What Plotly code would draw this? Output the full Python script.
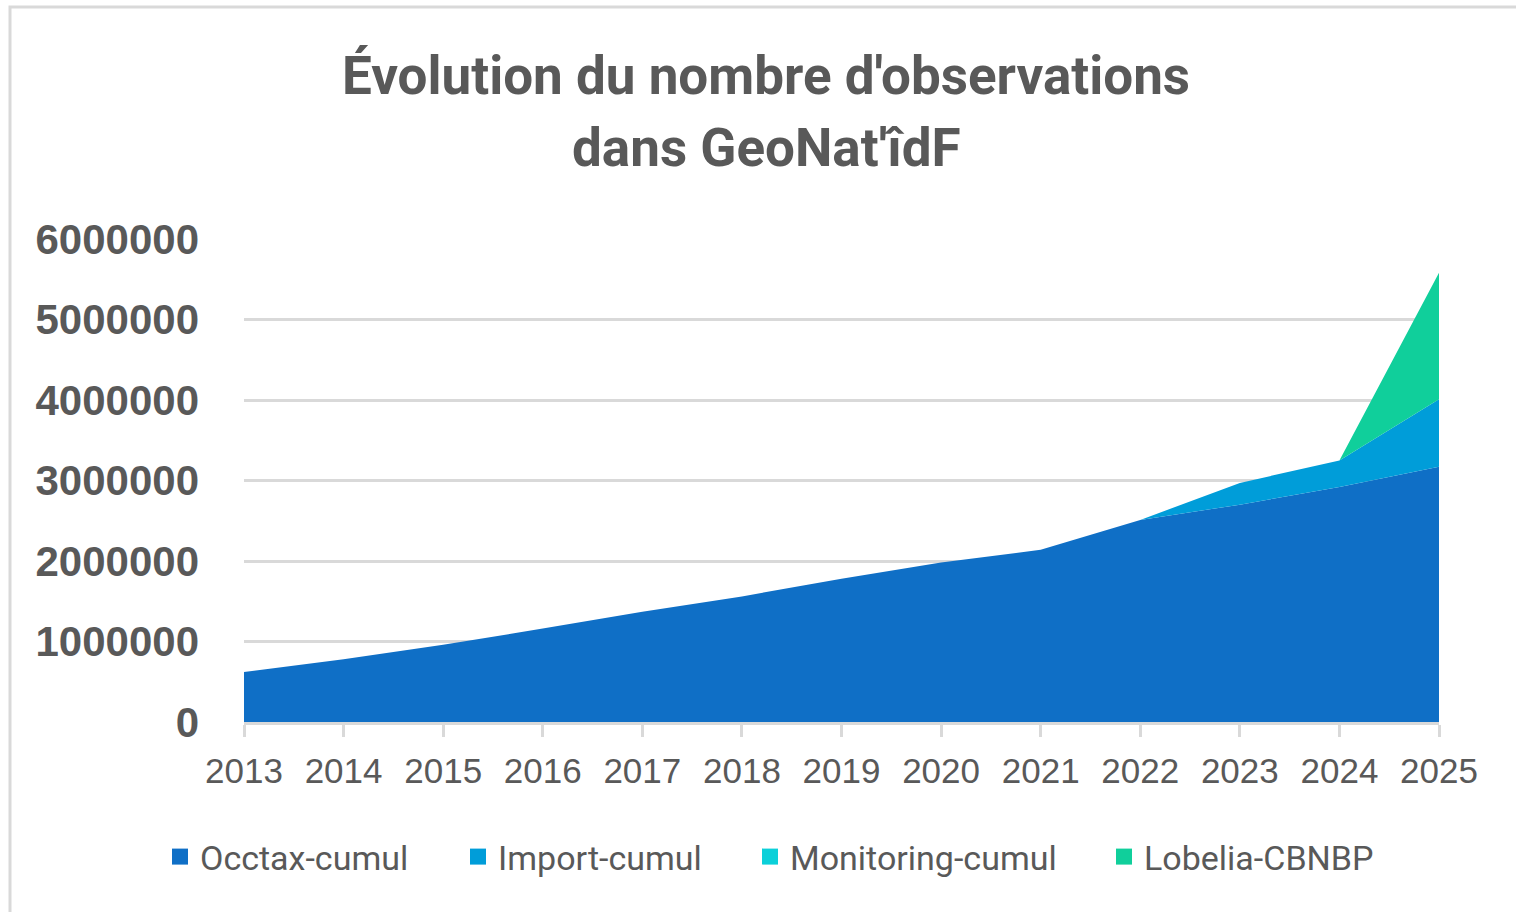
import plotly.graph_objects as go

years = [2013, 2014, 2015, 2016, 2017, 2018, 2019, 2020, 2021, 2022, 2023, 2024, 2025]
occtax = [620000, 780000, 960000, 1160000, 1370000, 1560000, 1780000, 1980000, 2140000, 2510000, 2700000, 2920000, 3170000]
import_cumul = [0, 0, 0, 0, 0, 0, 0, 0, 0, 0, 270000, 330000, 840000]
monitoring = [0, 0, 0, 0, 0, 0, 0, 0, 0, 0, 0, 0, 0]
lobelia = [0, 0, 0, 0, 0, 0, 0, 0, 0, 0, 0, 0, 1570000]
y_ticks = [0, 1000000, 2000000, 3000000, 4000000, 5000000, 6000000]

series = [
    ("Occtax-cumul", occtax, "#0F6FC6"),
    ("Import-cumul", import_cumul, "#009DD9"),
    ("Monitoring-cumul", monitoring, "#0BD0D9"),
    ("Lobelia-CBNBP", lobelia, "#10CF9B"),
]
legend_ids = ["legend", "legend2", "legend3", "legend4"]
legend_px = [160, 458, 750, 1104]

W, H = 1516, 912
L, R, T, B = 244, 1439, 239, 722


def cx(px):
    return (px - L) / (R - L)


def cy(py):
    return (B - py) / (B - T)


fig = go.Figure()
for name, vals, col in series:
    fig.add_trace(go.Scatter(
        x=years, y=vals, name=name, mode="lines",
        stackgroup="one", line=dict(width=0, color=col),
        fillcolor=col, showlegend=False, legendgroup=name,
    ))
for (name, vals, col), lid in zip(series, legend_ids):
    fig.add_trace(go.Scatter(
        x=[None], y=[None], name=name, mode="markers", legendgroup=name, legend=lid,
        marker=dict(symbol="square", size=18, color=col),
    ))

legend_layouts = {}
for lid, px in zip(legend_ids, legend_px):
    legend_layouts[lid] = dict(
        orientation="h", x=px / W, xref="container", xanchor="left",
        y=(H - 857) / H, yref="container", yanchor="middle",
        font=dict(family="Roboto, sans-serif", size=34, color="#595959"),
        itemwidth=30, bgcolor="rgba(0,0,0,0)",
    )

fig.update_layout(
    width=W, height=H,
    margin=dict(l=L, r=W - R, t=T, b=H - B),
    paper_bgcolor="white", plot_bgcolor="white",
    showlegend=True,
    **legend_layouts,
    xaxis=dict(
        range=[2013, 2025], tickmode="array", tickvals=years, ticktext=[str(y) for y in years],
        showgrid=False, showline=True, linecolor="#D9D9D9", linewidth=3,
        ticks="outside", ticklen=12, tickwidth=3, tickcolor="#D9D9D9",
        tickfont=dict(family="Liberation Sans, Arial, sans-serif", size=35, color="#595959"),
        ticklabelstandoff=4, zeroline=False,
    ),
    yaxis=dict(
        range=[0, 6000000], tickmode="array",
        tickvals=y_ticks, ticktext=[str(v) for v in y_ticks],
        showgrid=True, gridcolor="#D9D9D9", gridwidth=3,
        tickfont=dict(family="Liberation Sans, Arial, sans-serif", size=42, color="#595959", weight=700),
        ticklabelstandoff=44, zeroline=False, showline=False,
    ),
    shapes=[
        dict(type="rect", xref="paper", yref="paper",
             x0=cx(10), x1=cx(1530), y0=cy(930), y1=cy(7),
             line=dict(color="#D9D9D9", width=3), fillcolor="rgba(0,0,0,0)", layer="below"),
    ],
)

fig.add_annotation(text="<b>Évolution du nombre d'observations</b>", x=cx(766), y=cy(76),
                   xref="paper", yref="paper", showarrow=False, xanchor="center", yanchor="middle",
                   font=dict(family="Roboto, sans-serif", size=53, color="#595959"))
fig.add_annotation(text="<b>dans GeoNat'îdF</b>", x=cx(766), y=cy(148),
                   xref="paper", yref="paper", showarrow=False, xanchor="center", yanchor="middle",
                   font=dict(family="Roboto, sans-serif", size=53, color="#595959"))

fig.write_html("out.html", config={"displayModeBar": False},
               post_script="document.body.style.margin='0px';")
